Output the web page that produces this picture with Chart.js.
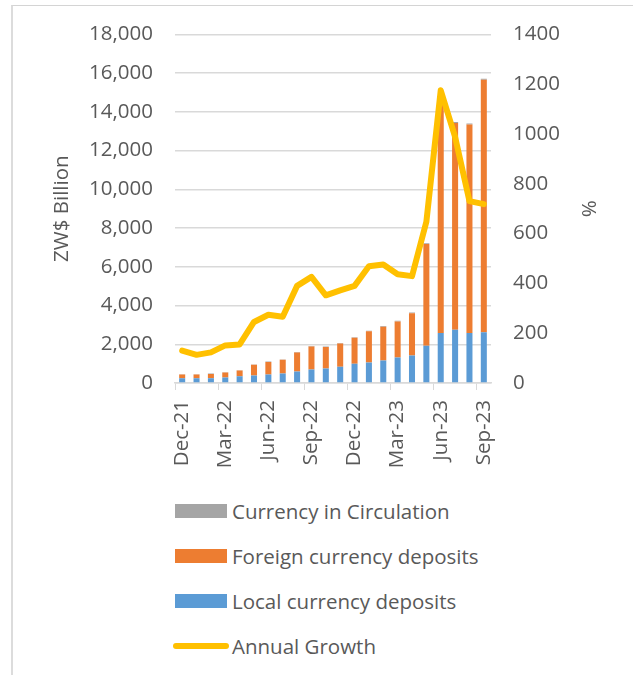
<!DOCTYPE html>
<html lang="en">
<head>
    <meta charset="UTF-8">
    <title>Broad Money by Components</title>
    <script src="https://cdn.jsdelivr.net/npm/chart.js@4.4.0/dist/chart.umd.min.js"></script>
    <style>
        * {
            margin: 0;
            padding: 0;
            box-sizing: border-box;
        }

        body {
            width: 633px;
            height: 675px;
            background: #fff;
            font-family: 'Open Sans', sans-serif;
            color: #595959;
            overflow: hidden;
            position: relative;
        }

        .frame {
            position: absolute;
            left: 11px;
            top: 5px;
            right: 0;
            bottom: 0;
            border-left: 2px solid #dcdcdc;
            border-top: 1px solid #d4d4d4;
        }

        .chart-box {
            position: absolute;
            left: 0;
            top: 0;
            width: 633px;
            height: 480px;
        }

        .legend {
            position: absolute;
            left: 173px;
            top: 488px;
            list-style: none;
        }

        .legend li {
            display: flex;
            align-items: center;
            height: 45px;
            font-size: 20.5px;
        }

        .legend .swatch {
            width: 52px;
            height: 14px;
            margin-left: 2px;
            margin-right: 5px;
        }

        .legend .swatch.line {
            width: 56px;
            height: 6px;
            margin-left: 0;
            margin-right: 3px;
            border-radius: 3px;
        }
    </style>
</head>
<body>
    <div class="frame"></div>
    <div class="chart-box">
        <canvas id="moneyChart"></canvas>
    </div>
    <ul class="legend" id="legend"></ul>

    <script>
        const months = ['Dec-21', 'Jan-22', 'Feb-22', 'Mar-22', 'Apr-22', 'May-22', 'Jun-22', 'Jul-22',
            'Aug-22', 'Sep-22', 'Oct-22', 'Nov-22', 'Dec-22', 'Jan-23', 'Feb-23', 'Mar-23', 'Apr-23',
            'May-23', 'Jun-23', 'Jul-23', 'Aug-23', 'Sep-23'];

        // ZW$ billion
        const localDeposits = [240, 240, 245, 280, 350, 385, 435, 490, 590, 695, 750, 835, 990, 1060,
            1165, 1320, 1425, 1925, 2575, 2745, 2575, 2625];
        const foreignDeposits = [195, 195, 225, 260, 295, 555, 655, 705, 985, 1190, 1105, 1205, 1345,
            1605, 1740, 1860, 2175, 5245, 11800, 10680, 10765, 13030];
        const currencyInCirculation = [15, 15, 16, 17, 18, 20, 21, 22, 24, 26, 27, 28, 30, 31, 33, 35,
            37, 40, 45, 48, 50, 55];

        // %
        const annualGrowth = [130, 113, 123, 151, 155, 245, 274, 266, 390, 426, 352, 372, 390, 469,
            476, 437, 429, 647, 1175, 988, 730, 718];

        const leftTicks = { min: 0, max: 18000, step: 2000 };
        const rightTicks = { min: 0, max: 1400, step: 200 };

        const textColor = '#595959';
        const gridColor = '#d9d9d9';
        const font = { family: "'Open Sans', sans-serif", size: 20.5 };

        const datasets = [
            {
                type: 'line',
                label: 'Annual Growth',
                data: annualGrowth,
                yAxisID: 'y2',
                borderColor: '#FFC000',
                backgroundColor: '#FFC000',
                borderWidth: 6,
                borderJoinStyle: 'round',
                borderCapStyle: 'round',
                pointRadius: 0,
                tension: 0,
                order: 0
            },
            {
                label: 'Local currency deposits',
                data: localDeposits,
                backgroundColor: '#5B9BD5',
                yAxisID: 'y',
                order: 1
            },
            {
                label: 'Foreign currency deposits',
                data: foreignDeposits,
                backgroundColor: '#ED7D31',
                yAxisID: 'y',
                order: 1
            },
            {
                label: 'Currency in Circulation',
                data: currencyInCirculation,
                backgroundColor: '#A5A5A5',
                yAxisID: 'y',
                order: 1
            }
        ];

        const chart = new Chart(document.getElementById('moneyChart'), {
            type: 'bar',
            data: { labels: months, datasets: datasets },
            options: {
                responsive: true,
                maintainAspectRatio: false,
                animation: false,
                layout: { padding: { top: 34, left: 0, right: 0, bottom: 0 } },
                datasets: {
                    bar: { categoryPercentage: 1, barPercentage: 0.42 }
                },
                plugins: {
                    legend: { display: false },
                    tooltip: { enabled: false }
                },
                scales: {
                    x: {
                        stacked: true,
                        grid: {
                            drawOnChartArea: false,
                            tickLength: 7,
                            color: (ctx) => ctx.index % 3 === 0 ? gridColor : 'rgba(0,0,0,0)'
                        },
                        border: { display: true, color: gridColor, width: 1.5 },
                        ticks: {
                            autoSkip: false,
                            minRotation: 90,
                            maxRotation: 90,
                            padding: 10,
                            color: textColor,
                            font: font,
                            callback: (val, i) => i % 3 === 0 ? months[i] : ''
                        },
                        afterFit: (scale) => { scale.height = 97; }
                    },
                    y: {
                        stacked: true,
                        position: 'left',
                        min: leftTicks.min,
                        max: leftTicks.max,
                        grid: { color: gridColor, lineWidth: 1.5, drawTicks: false },
                        border: { display: false },
                        ticks: {
                            stepSize: leftTicks.step,
                            padding: 22,
                            color: textColor,
                            font: font,
                            callback: (v) => v.toLocaleString('en-US')
                        },
                        title: {
                            display: true,
                            text: 'ZW$ Billion',
                            color: textColor,
                            font: font,
                            padding: { top: 50, bottom: 0 }
                        },
                        afterFit: (scale) => { scale.width = 175; }
                    },
                    y2: {
                        position: 'right',
                        min: rightTicks.min,
                        max: rightTicks.max,
                        grid: { drawOnChartArea: false, drawTicks: false },
                        border: { display: false },
                        ticks: {
                            stepSize: rightTicks.step,
                            padding: 22,
                            color: textColor,
                            font: font,
                            callback: (v) => String(v)
                        },
                        title: {
                            display: true,
                            text: '%',
                            color: textColor,
                            font: font,
                            padding: { top: 33, bottom: 0 }
                        },
                        afterFit: (scale) => { scale.width = 142; }
                    }
                }
            }
        });

        // Legend: circulation, foreign, local, then the growth line
        const legendOrder = [3, 2, 1, 0];
        const legend = document.getElementById('legend');
        legendOrder.forEach((i) => {
            const ds = chart.data.datasets[i];
            const li = document.createElement('li');
            const sw = document.createElement('span');
            sw.className = 'swatch' + (ds.type === 'line' ? ' line' : '');
            sw.style.background = ds.backgroundColor;
            li.appendChild(sw);
            li.appendChild(document.createTextNode(ds.label));
            legend.appendChild(li);
        });
    </script>
</body>
</html>
